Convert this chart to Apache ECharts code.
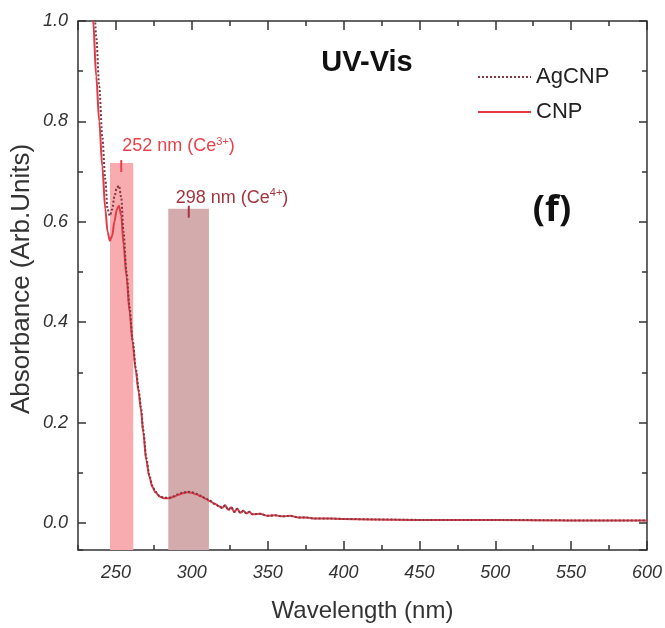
<!DOCTYPE html>
<html>
<head>
<meta charset="utf-8">
<title>UV-Vis</title>
<style>
    html, body {
        margin: 0;
        padding: 0;
        background: #ffffff;
    }

    #main {
        width: 665px;
        height: 628px;
    }
</style>
</head>
<body>
<div id="main"></div>
<script src="https://cdn.jsdelivr.net/npm/echarts@6/dist/echarts.min.js"></script>
<script>
    // 波长 (nm)
    var wavelength = [232, 235, 237, 239, 241, 243, 244.5, 246, 247.5, 249, 250.5, 252, 253.5, 255, 257, 259, 261, 263, 265, 266.5,
        268, 270, 272, 274, 276, 279, 282, 285, 288, 291, 294, 297, 300, 303, 306, 309, 312, 315, 318, 320,
        322, 324, 326, 328, 330, 332, 334, 336, 338, 340, 345, 350, 355, 360, 365, 370, 375, 380, 390, 400,
        420, 450, 500, 550, 600];

    // CNP 吸光度
    var cnp = [1.12, 1.0, 0.89, 0.80, 0.71, 0.625, 0.58, 0.562, 0.572, 0.600, 0.624, 0.632, 0.612, 0.555, 0.49, 0.42, 0.36, 0.305, 0.26, 0.225,
        0.18, 0.125, 0.092, 0.072, 0.061, 0.052, 0.049, 0.049, 0.052, 0.056, 0.059, 0.061, 0.060, 0.057, 0.053, 0.048, 0.043, 0.038, 0.033, 0.030,
        0.035, 0.026, 0.031, 0.022, 0.028, 0.020, 0.024, 0.019, 0.022, 0.017, 0.018, 0.014, 0.015, 0.013, 0.014, 0.011, 0.011, 0.009, 0.009, 0.008,
        0.007, 0.006, 0.006, 0.005, 0.005];

    // AgCNP 吸光度
    var agcnp = [1.22, 1.08, 0.97, 0.87, 0.77, 0.685, 0.625, 0.612, 0.625, 0.650, 0.667, 0.672, 0.648, 0.58, 0.50, 0.43, 0.365, 0.31, 0.265, 0.23,
        0.186, 0.13, 0.095, 0.074, 0.062, 0.053, 0.050, 0.050, 0.053, 0.057, 0.060, 0.062, 0.061, 0.058, 0.054, 0.049, 0.044, 0.038, 0.033, 0.030,
        0.035, 0.026, 0.031, 0.022, 0.028, 0.020, 0.024, 0.019, 0.022, 0.017, 0.018, 0.014, 0.015, 0.013, 0.014, 0.011, 0.011, 0.009, 0.009, 0.008,
        0.007, 0.006, 0.006, 0.005, 0.005];

    // 特征吸收带 Ce3+ / Ce4+
    var bandStart = [246.1, 284.5];
    var bandEnd = [261.4, 311.3];
    var bandTop = [0.717, 0.626];
    var bandPeak = [253.5, 298];
    var bandLabel = ['{a|252 nm (Ce}{s|3+}{a|)}', '{a|298 nm (Ce}{s|4+}{a|)}'];

    var xMin = 225, xMax = 600;
    var yMin = -0.054, yMax = 1.0;

    var font = '"Liberation Sans", Arial, sans-serif';
    var bandColor = ['#f9acaf', '#d3abad'];
    var labelColor = ['#e8434c', '#a5343f'];
    var labelDx = [1, -13];
    var labelDy = [-17, -11];

    function pairs(xs, ys) {
        var out = [];
        for (var i = 0; i < xs.length; i++) {
            out.push([xs[i], ys[i]]);
        }
        return out;
    }

    var bandData = [];
    for (var i = 0; i < bandStart.length; i++) {
        bandData.push([bandStart[i], bandEnd[i], bandTop[i], bandPeak[i]]);
    }

    // 坐标轴（主刻度 + 次刻度，四边朝内）
    function xAxisOf(pos, major, withLabel) {
        var axis = {
            type: 'value',
            position: pos,
            min: xMin,
            max: xMax,
            axisLine: {show: false, onZero: false},
            splitLine: {show: false},
            axisTick: {show: true, inside: true, length: major ? 9 : 5, lineStyle: {color: '#333', width: 1.5}},
            axisLabel: {show: false}
        };
        if (major) {
            axis.splitNumber = 7;
        } else {
            axis.interval = 25;
        }
        if (withLabel) {
            axis.axisLabel = {
                show: true, showMinLabel: false, margin: 14,
                fontSize: 18, fontStyle: 'italic', color: '#333', fontFamily: font
            };
            axis.name = 'Wavelength (nm)';
            axis.nameLocation = 'middle';
            axis.nameGap = 49;
            axis.nameTextStyle = {fontSize: 24, color: '#333', fontFamily: font};
        }
        return axis;
    }

    function yAxisOf(pos, major, withLabel) {
        var axis = {
            type: 'value',
            position: pos,
            min: yMin,
            max: yMax,
            splitNumber: major ? 5 : 10,
            axisLine: {show: false, onZero: false},
            splitLine: {show: false},
            axisTick: {show: true, inside: true, length: major ? 8 : 5, lineStyle: {color: '#333', width: 1.5}},
            axisLabel: {show: false}
        };
        if (withLabel) {
            axis.axisLabel = {
                show: true, showMinLabel: false, margin: 10,
                fontSize: 18, fontStyle: 'italic', color: '#333', fontFamily: font,
                formatter: function (v) { return v.toFixed(1); }
            };
        }
        return axis;
    }

    var myChart = echarts.init(document.getElementById('main'), null, {renderer: 'canvas'});

    var option = {
        animation: false,
        backgroundColor: '#ffffff',
        grid: {
            left: 78, right: 18, top: 21, bottom: 75,
            show: true, borderColor: '#333', borderWidth: 1.5, backgroundColor: 'transparent'
        },
        xAxis: [
            xAxisOf('bottom', true, true),
            xAxisOf('bottom', false, false),
            xAxisOf('top', true, false),
            xAxisOf('top', false, false)
        ],
        yAxis: [
            yAxisOf('left', true, true),
            yAxisOf('left', false, false),
            yAxisOf('right', true, false),
            yAxisOf('right', false, false)
        ],
        legend: {
            data: ['AgCNP', 'CNP'],
            orient: 'vertical',
            left: 472,
            top: 61,
            itemWidth: 53,
            itemHeight: 14,
            itemGap: 13,
            itemStyle: {opacity: 0},
            textStyle: {fontSize: 22, color: '#222', fontFamily: font}
        },
        graphic: [
            {
                // 纵轴标题
                type: 'text', x: 22, y: 279, rotation: Math.PI / 2,
                style: {text: 'Absorbance (Arb.Units)', font: '26px ' + font, fill: '#333', align: 'center', verticalAlign: 'middle'}
            },
            {
                type: 'text', x: 367, y: 63,
                style: {text: 'UV-Vis', font: 'bold 29px ' + font, fill: '#111', align: 'center', verticalAlign: 'middle'}
            },
            {
                type: 'text', x: 552, y: 211,
                style: {text: '(f)', font: 'bold 36px "Open Sans", "Noto Sans", sans-serif', fill: '#111', align: 'center', verticalAlign: 'middle'}
            }
        ],
        series: [
            {
                // 吸收带与标注
                type: 'custom',
                xAxisIndex: 0,
                yAxisIndex: 0,
                z: 1,
                encode: {x: [0, 1, 3], y: 2},
                data: bandData,
                renderItem: function (params, api) {
                    var i = params.dataIndex;
                    var p0 = api.coord([api.value(0), api.value(2)]);
                    var p1 = api.coord([api.value(1), yMin]);
                    var pk = api.coord([api.value(3), api.value(2)]);
                    return {
                        type: 'group',
                        children: [
                            {
                                type: 'rect',
                                shape: {x: p0[0], y: p0[1], width: p1[0] - p0[0], height: p1[1] - p0[1]},
                                style: {fill: bandColor[i]}
                            },
                            {
                                type: 'line',
                                shape: {x1: pk[0], y1: pk[1] - 3, x2: pk[0], y2: pk[1] + 9},
                                style: {stroke: labelColor[i], lineWidth: 2}
                            },
                            {
                                type: 'text',
                                x: pk[0] + labelDx[i],
                                y: pk[1] + labelDy[i],
                                style: {
                                    text: bandLabel[i], fill: labelColor[i],
                                    align: 'left', verticalAlign: 'middle',
                                    rich: {
                                        a: {fontSize: 18, fontFamily: font, color: labelColor[i], lineHeight: 20},
                                        s: {fontSize: 11, fontFamily: font, color: labelColor[i], lineHeight: 11, verticalAlign: 'top'}
                                    }
                                }
                            }
                        ]
                    };
                }
            },
            {
                name: 'CNP',
                type: 'line',
                z: 3,
                data: pairs(wavelength, cnp),
                showSymbol: false,
                symbol: 'none',
                smooth: 0.3,
                smoothMonotone: 'x',
                lineStyle: {color: '#e23b47', width: 2},
                itemStyle: {color: '#e23b47'}
            },
            {
                name: 'AgCNP',
                type: 'line',
                z: 4,
                data: pairs(wavelength, agcnp),
                showSymbol: false,
                symbol: 'none',
                smooth: 0.3,
                smoothMonotone: 'x',
                lineStyle: {color: '#7d3a44', width: 2, type: 'dotted'},
                itemStyle: {color: '#7d3a44'}
            }
        ]
    };

    myChart.setOption(option);
</script>
</body>
</html>
